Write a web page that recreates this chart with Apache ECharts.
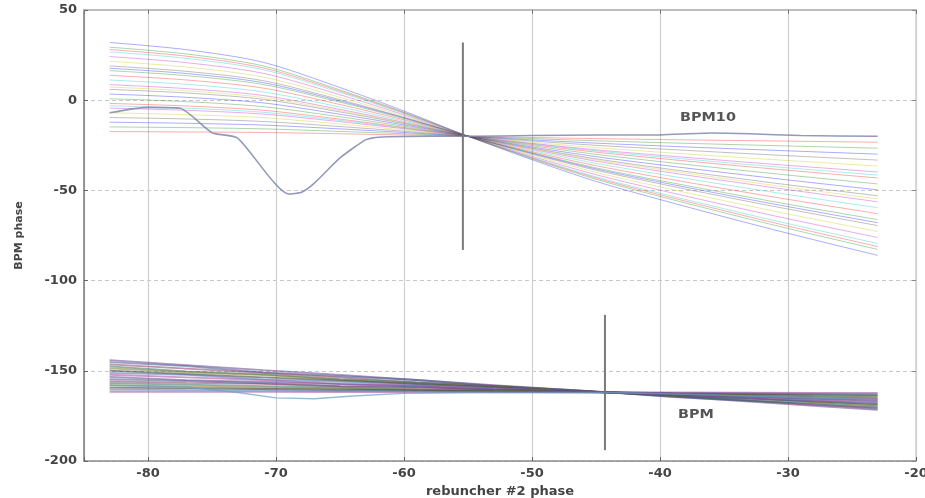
<!DOCTYPE html>
<html><head><meta charset="utf-8">
<script src="https://cdn.jsdelivr.net/npm/echarts/dist/echarts.min.js"></script>
<style>html,body{margin:0;padding:0;background:#fff}#c{width:925px;height:498px}</style>
</head><body><div id="c"></div>
<script>
// ---- data ----
const xName = 'rebuncher #2 phase';
const yName = 'BPM phase';
const xMin = -85, xMax = -20;
const yMin = -200, yMax = 50, yStep = 50;

const bpm10X = [-83, -77, -71, -65, -60, -55, -50, -45, -39, -31, -23];
const bpm10Lines = [
  [32, 28, 21, 7, -6, -20, -33, -45, -57, -72, -86],
  [29.4, 25.6, 19.0, 5.7, -6.7, -20, -32.4, -43.8, -55.2, -69.4, -82.7],
  [28.1, 24.4, 17.9, 5.0, -7.0, -20, -32.0, -43.1, -54.2, -68.1, -81.1],
  [26.8, 23.2, 16.9, 4.3, -7.4, -20, -31.7, -42.5, -53.3, -66.8, -79.4],
  [24.2, 20.8, 14.9, 3.0, -8.1, -20, -31.1, -41.3, -51.5, -64.2, -76.1],
  [21.6, 18.4, 12.8, 1.6, -8.8, -20, -30.4, -40, -49.6, -61.6, -72.8],
  [19, 16, 10.8, 0.3, -9.5, -20, -29.8, -38.8, -47.8, -59, -69.5],
  [17.7, 14.8, 9.7, -0.4, -9.8, -20, -29.4, -38.1, -46.8, -57.7, -67.9],
  [16.4, 13.6, 8.7, -1.1, -10.2, -20, -29.1, -37.5, -45.9, -56.4, -66.2],
  [13.8, 11.2, 6.7, -2.4, -10.9, -20, -28.5, -36.3, -44.1, -53.8, -62.9],
  [11.2, 8.8, 4.6, -3.8, -11.6, -20, -27.8, -35, -42.2, -51.2, -59.6],
  [8.6, 6.4, 2.6, -5.1, -12.3, -20, -27.2, -33.8, -40.4, -48.6, -56.3],
  [7.3, 5.2, 1.5, -5.8, -12.6, -20, -26.8, -33.1, -39.4, -47.3, -54.7],
  [6, 4, 0.5, -6.5, -13, -20, -26.5, -32.5, -38.5, -46, -53],
  [3.4, 1.6, -1.5, -7.8, -13.7, -20, -25.9, -31.3, -36.7, -43.4, -49.7],
  [0.8, -0.8, -3.6, -9.2, -14.4, -20, -25.2, -30, -34.8, -40.8, -46.4],
  [-1.8, -3.2, -5.6, -10.5, -15.1, -20, -24.6, -28.8, -33, -38.2, -43.1],
  [-3.1, -4.4, -6.7, -11.2, -15.4, -20, -24.2, -28.1, -32.0, -36.9, -41.5],
  [-4.4, -5.6, -7.7, -11.9, -15.8, -20, -23.9, -27.5, -31.1, -35.6, -39.8],
  [-7, -8, -9.7, -13.2, -16.5, -20, -23.3, -26.3, -29.3, -33, -36.5],
  [-9.6, -10.4, -11.8, -14.6, -17.2, -20, -22.6, -25, -27.4, -30.4, -33.2],
  [-12.2, -12.8, -13.8, -15.9, -17.9, -20, -22, -23.8, -25.6, -27.8, -29.9],
  [-14.8, -15.2, -15.9, -17.3, -18.6, -20, -21.3, -22.5, -23.7, -25.2, -26.6],
  [-17.4, -17.6, -17.9, -18.6, -19.3, -20, -20.7, -21.3, -21.9, -22.6, -23.3]
];
const bpm10DipX = [-83, -80, -77.5, -75, -73, -69, -68, -67, -65, -63, -62, -58, -55, -50, -45, -40, -36, -33, -29, -23];
const bpm10DipY = [-7, -4, -4.5, -18, -21, -52, -51, -46, -32, -22, -20.5, -20, -20, -19.6, -19.3, -19.2, -18.2, -18.6, -19.6, -20];

const bpmX = [-83, -77, -71, -65, -59, -53, -47, -44, -39, -33, -28, -23];
const bpmLines = [
  [-144.1, -146.8, -149.6, -152.3, -155.1, -157.9, -160.6, -162, -164.3, -167.1, -169.4, -171.7],
  [-145.2, -147.4, -150.9, -153.0, -155.1, -158.3, -160.7, -162, -164.6, -166.7, -168.5, -171.0],
  [-146.4, -148.8, -151.2, -153.6, -156.4, -158.4, -160.8, -162, -164, -166.4, -168.9, -170.4],
  [-147.6, -150.3, -152.0, -154.6, -156.4, -158.7, -160.6, -162, -163.9, -166.5, -167.9, -169.8],
  [-148.7, -150.8, -152.4, -154.9, -157.3, -158.9, -161.0, -162, -163.7, -165.3, -167.4, -169.1],
  [-149.9, -151.8, -153.6, -155.5, -157.3, -159.2, -161.1, -162, -163.6, -165.4, -167.0, -168.5],
  [-151.1, -152.3, -154.8, -156.1, -157.8, -159.5, -161.2, -162, -163.4, -165.6, -166.5, -167.9],
  [-152.2, -153.7, -155.2, -157.2, -158.2, -159.7, -161.2, -162, -163.3, -164.8, -166.4, -167.3],
  [-153.4, -155.2, -156.1, -157.4, -158.7, -160.4, -161.3, -162, -163.1, -164.4, -165.5, -166.6],
  [-154.6, -155.7, -156.9, -158.5, -159.1, -160.3, -161.4, -162, -163.0, -164.1, -165.4, -166.0],
  [-155.8, -156.7, -157.3, -158.6, -159.6, -160.6, -161.5, -162, -162.8, -163.8, -164.6, -165.4],
  [-156.9, -157.7, -158.5, -159.3, -160.4, -160.8, -161.6, -162, -162.7, -163.4, -164.1, -164.7],
  [-158.1, -158.7, -159.3, -159.9, -160.5, -161.1, -161.7, -162, -162.5, -163.1, -163.6, -164.1],
  [-159.3, -159.7, -160.1, -160.5, -160.9, -161.4, -161.8, -162, -162.4, -162.8, -163.1, -163.5],
  [-160.4, -160.7, -160.9, -161.2, -161.4, -161.6, -161.9, -162, -162.2, -162.4, -162.6, -162.8],
  [-161.6, -161.7, -161.7, -161.8, -161.9, -161.9, -162, -162, -162, -162.1, -162.2, -162.2]
];
const bpmDipX = [-83, -77, -73, -70, -67, -64, -60, -55, -50, -44, -38, -33, -28, -23];
const bpmDipY = [-158, -159, -162, -165, -165.5, -164, -162.5, -162, -162, -162, -163, -164, -165, -166];

const markerX = [-55.4, -44.3];
const markerY = [[32, -83], [-119, -194]];
const noteTexts = ['BPM10', 'BPM'];

const palette = ['#0000ff', '#008000', '#ff0000', '#00bfbf', '#bf00bf', '#bfbf00', '#404040'];
const bpmPalette = ['#6a3d8f', '#3a5a8c', '#8c3a6a', '#2f6f5f', '#7a7a2a', '#303030', '#4a6fb0', '#a04a9a'];

// ---- build series ----
const series = [];
bpm10Lines.forEach((ys, i) => {
  series.push({
    type: 'line', showSymbol: false, smooth: 0.3, silent: true,
    data: bpm10X.map((x, j) => [x, ys[j]]),
    lineStyle: { width: 1, color: palette[i % palette.length], opacity: 0.33 }
  });
});
series.push({
  type: 'line', showSymbol: false, silent: true, smooth: 0.2,
  data: bpm10DipX.map((x, j) => [x, bpm10DipY[j]]),
  lineStyle: { width: 1.6, color: '#8088ad', opacity: 0.85 }
});
bpmLines.forEach((ys, i) => {
  series.push({
    type: 'line', showSymbol: false, silent: true,
    data: bpmX.map((x, j) => [x, ys[j]]),
    lineStyle: { width: 1.8, color: bpmPalette[i % bpmPalette.length], opacity: 0.55 }
  });
});
series.push({
  type: 'line', showSymbol: false, silent: true,
  data: bpmDipX.map((x, j) => [x, bpmDipY[j]]),
  lineStyle: { width: 1.4, color: '#6aa0c8', opacity: 0.7 }
});
markerX.forEach((x, i) => {
  series.push({
    type: 'line', showSymbol: false, silent: true,
    data: markerY[i].map(y => [x, y]),
    lineStyle: { width: 2, color: '#7a7a7a' }
  });
});

const labelFont = { fontFamily: 'DejaVu Sans', fontWeight: 'bold', fontSize: 13, color: '#444' };

const chart = echarts.init(document.getElementById('c'), null, { renderer: 'canvas' });
chart.setOption({
  animation: false,
  backgroundColor: '#fff',
  grid: { left: 84, right: 9, top: 10, bottom: 37, containLabel: false, outerBoundsMode: 'none' },
  xAxis: [{
    type: 'value', min: xMin, max: xMax, splitNumber: 7,
    name: xName, nameLocation: 'middle', nameGap: 20,
    nameTextStyle: { fontFamily: 'DejaVu Sans', fontWeight: 'bold', fontSize: 13, color: '#444' },
    axisLine: { show: true, onZero: false, lineStyle: { color: '#8a8a8a', width: 1.5 } },
    axisTick: { show: true, inside: true, length: 4, lineStyle: { color: '#666' } },
    axisLabel: Object.assign({ margin: 6, formatter: v => (v % 10 === 0 ? String(v) : '') }, labelFont),
    splitLine: { show: true, lineStyle: { color: '#cfcfcf', width: 1.2 } }
  }, {
    type: 'value', position: 'top', min: xMin, max: xMax, splitNumber: 7,
    axisLine: { show: true, onZero: false, lineStyle: { color: '#bdbdbd', width: 2 } },
    axisTick: { show: true, inside: true, length: 4, lineStyle: { color: '#777' } },
    axisLabel: { show: false }, splitLine: { show: false }
  }],
  yAxis: [{
    type: 'value', min: yMin, max: yMax, interval: yStep,
    name: yName, nameLocation: 'middle', nameGap: 59,
    nameTextStyle: { fontFamily: 'DejaVu Sans', fontWeight: 'bold', fontSize: 11, color: '#444' },
    axisLine: { show: true, onZero: false, lineStyle: { color: '#7a7a7a', width: 1.5 } },
    axisTick: { show: true, inside: true, length: 4, lineStyle: { color: '#666' } },
    axisLabel: Object.assign({ margin: 7 }, labelFont),
    splitLine: { show: true, lineStyle: { color: '#c8c8c8', width: 1, type: [4, 3] } }
  }, {
    type: 'value', position: 'right', min: yMin, max: yMax, interval: yStep,
    axisLine: { show: true, onZero: false, lineStyle: { color: '#d0d0d0', width: 1.5 } },
    axisTick: { show: true, inside: true, length: 4, lineStyle: { color: '#888' } },
    axisLabel: { show: false }, splitLine: { show: false }
  }],
  graphic: [
    { type: 'text', x: 680, y: 118, scaleX: 1.2, silent: true,
      style: { text: noteTexts[0], fontFamily: 'DejaVu Sans', fontWeight: 'bold', fontSize: 12, fill: '#555', verticalAlign: 'middle' } },
    { type: 'text', x: 678, y: 415, scaleX: 1.2, silent: true,
      style: { text: noteTexts[1], fontFamily: 'DejaVu Sans', fontWeight: 'bold', fontSize: 12, fill: '#555', verticalAlign: 'middle' } }
  ],
  series: series
});
</script>
</body></html>
